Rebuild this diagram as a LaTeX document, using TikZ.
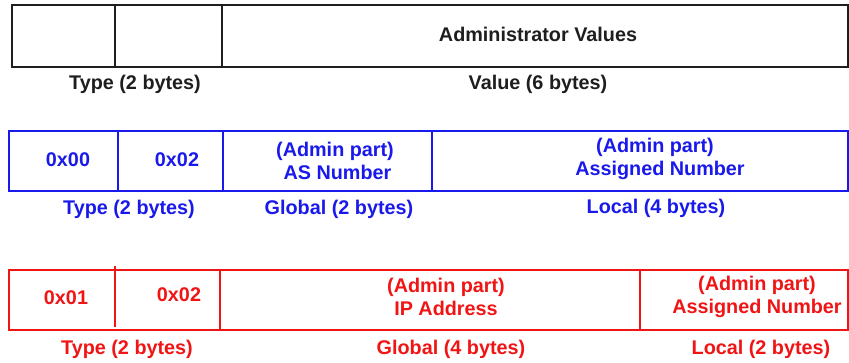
\documentclass[tikz,border=0pt]{standalone}
\usepackage{fontspec}
\setmainfont{Liberation Sans}
\definecolor{fblue}{RGB}{25,25,235}
\definecolor{fred}{RGB}{240,20,20}
\definecolor{fblack}{RGB}{30,30,30}
\begin{document}
\begin{tikzpicture}[x=1pt,y=-1pt,
  txt/.style={font=\fontsize{19.8}{23}\selectfont\bfseries,inner sep=0pt,align=center},
  rowone/.style={draw=fblack,line width=2.6pt},
  rowtwo/.style={draw=fblue,line width=2.6pt},
  rowthree/.style={draw=fred,line width=2pt}]
\useasboundingbox (0,0) rectangle (849,362);
% Row 1
\draw[rowone] (12,5) rectangle (848,67);
\draw[rowone] (115,5) -- (115,67);
\draw[rowone] (222,5) -- (222,67);
\node[txt,text=fblack] (av) at (538,34) {Administrator Values};
\node[txt,text=fblack] (t1) at (135,84) {Type (2 bytes)};
\node[txt,text=fblack] (v1) at (538,84) {Value (6 bytes)};
% Row 2
\draw[rowtwo] (9,131) rectangle (848,191);
\draw[rowtwo] (118,131) -- (118,191);
\draw[rowtwo] (223,131) -- (223,191);
\draw[rowtwo] (432,131) -- (432,191);
\begin{scope}[every node/.style={txt,text=fblue}]
\node (b1) at (68,160) {0x00};
\node (b2) at (177,160) {0x02};
\node (b3) at (335,161) {(Admin part)\\\hspace*{5pt}AS Number};
\node (b4) at (655,159) {(Admin part)\\\hspace*{10pt}Assigned Number};
\node (bt) at (129,209) {Type (2 bytes)};
\node (bg) at (339,209) {Global (2 bytes)};
\node (bl) at (656,208) {Local (4 bytes)};
\end{scope}
% Row 3
\draw[rowthree] (9,270) rectangle (848,330);
\draw[rowthree] (115,266) -- (115,327);
\draw[rowthree] (220,270) -- (220,330);
\draw[rowthree] (640,270) -- (640,330);
\begin{scope}[every node/.style={txt,text=fred}]
\node (r1) at (66,298) {0x01};
\node (r2) at (179,295) {0x02};
\node (r3) at (446,297) {(Admin part)\\IP Address};
\node (r4) at (757,297) {(Admin part)\\Assigned Number};
\node (rt) at (127,349) {Type (2 bytes)};
\node (rg) at (451,349) {Global (4 bytes)};
\node (rl) at (761,349) {Local (2 bytes)};
\end{scope}
\end{tikzpicture}
\end{document}
